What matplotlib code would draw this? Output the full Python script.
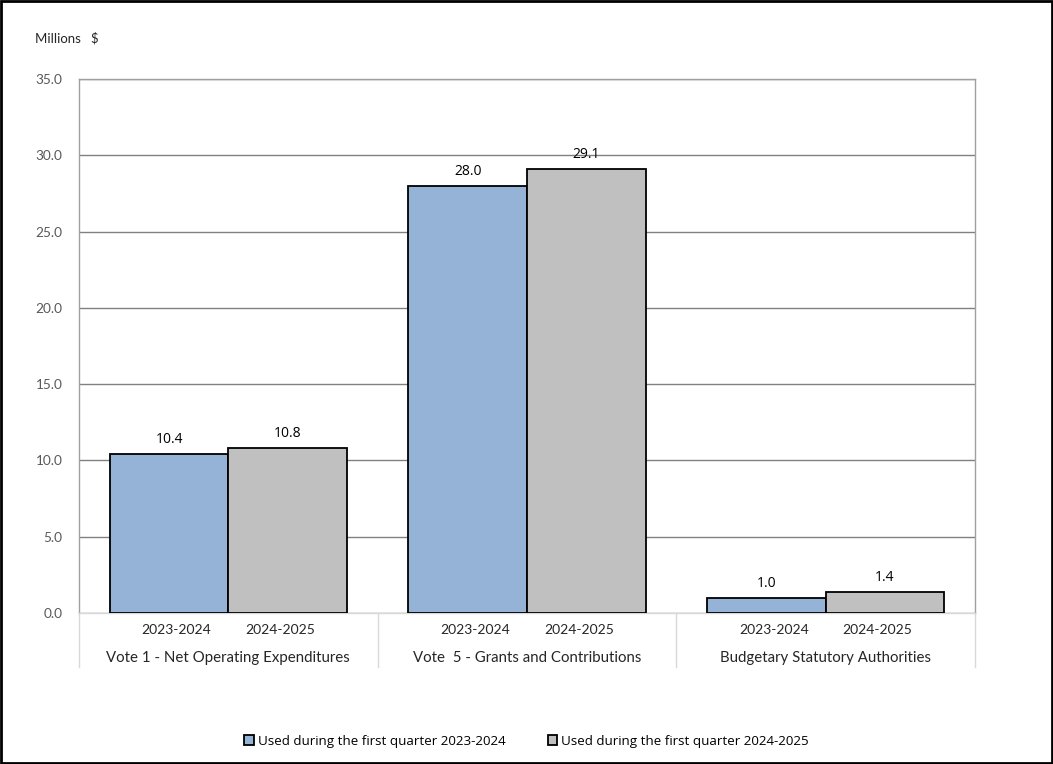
import matplotlib
matplotlib.use("Agg")
import matplotlib.pyplot as plt
import matplotlib.transforms as mtransforms
from matplotlib.patches import Rectangle
import numpy as np

categories = ["Vote 1 - Net Operating Expenditures", "Vote  5 - Grants and Contributions", "Budgetary Statutory Authorities"]
year_labels = ["2023-2024", "2024-2025"]
series_names = ["Used during the first quarter 2023-2024", "Used during the first quarter 2024-2025"]
values_2023 = [10.4, 28.0, 1.0]
values_2024 = [10.8, 29.1, 1.4]
yticks = [0, 5, 10, 15, 20, 25, 30, 35]

axis_font = "Lato"
label_font = "Open Sans"

fig = plt.figure(figsize=(10.53, 7.64), dpi=100)
ax = fig.add_axes([79/1053, 1 - 613/764, (975-79)/1053, (613-79)/764])

x = np.arange(len(categories))
w = 0.397
b1 = ax.bar(x - w/2, values_2023, w, color="#95B3D7", edgecolor="black", linewidth=1.3, label=series_names[0], zorder=3)
b2 = ax.bar(x + w/2, values_2024, w, color="#C0C0C0", edgecolor="black", linewidth=1.3, label=series_names[1], zorder=3)

for bars in (b1, b2):
    for r in bars:
        ax.annotate(f"{r.get_height():.1f}", (r.get_x() + r.get_width()/2, r.get_height()),
                    xytext=(0, 5), textcoords="offset points", ha="center", va="bottom",
                    fontsize=10, family=label_font, color="black", zorder=4)

ax.set_xlim(-0.5, len(categories) - 0.5)
ax.set_ylim(0, 35)
ax.set_yticks(yticks)
ax.set_yticklabels([f"{v:.1f}" for v in yticks], fontsize=9.8, family=axis_font, color="#595959")
ax.tick_params(axis="y", length=0, pad=12)
ax.set_xticks([])
ax.yaxis.grid(True, color="#808080", linewidth=1.0, zorder=0)
ax.set_axisbelow(True)
for s in ["left", "right", "top"]:
    ax.spines[s].set_color("#A0A0A0")
    ax.spines[s].set_linewidth(1.0)
ax.spines["bottom"].set_color("#D9D9D9")
ax.spines["bottom"].set_linewidth(1.0)

trans = mtransforms.blended_transform_factory(ax.transData, ax.transAxes)
off = 0.174
for i, cat in enumerate(categories):
    for j, yl in enumerate(year_labels):
        ax.text(i + (-off if j == 0 else off), -0.032, yl, transform=trans, ha="center", va="center",
                fontsize=10, family=axis_font, color="#262626")
    ax.text(i, -0.084, cat, transform=trans, ha="center", va="center",
            fontsize=10.8, family=axis_font, color="#262626")
for b in np.arange(len(categories) + 1) - 0.5:
    ax.plot([b, b], [0, -0.101], transform=trans, color="#D9D9D9", linewidth=1.0, clip_on=False)

fig.text(35/1053, 1 - 38/764, "Millions   $", fontsize=9.5, family=axis_font, color="#262626", va="center", ha="left")

leg = fig.legend(handles=[b1, b2], labels=series_names, loc="center", bbox_to_anchor=(0.5, 1 - 741/764),
                 ncol=2, frameon=False, prop={"family": label_font, "size": 9.6},
                 handlelength=0.7, handleheight=0.7, handletextpad=0.3, columnspacing=3.2)

fig.patches.append(Rectangle((0.001, 0.001), 0.998, 0.998, transform=fig.transFigure,
                             fill=False, edgecolor="black", linewidth=2.0))

fig.savefig("out.png", dpi=100)
